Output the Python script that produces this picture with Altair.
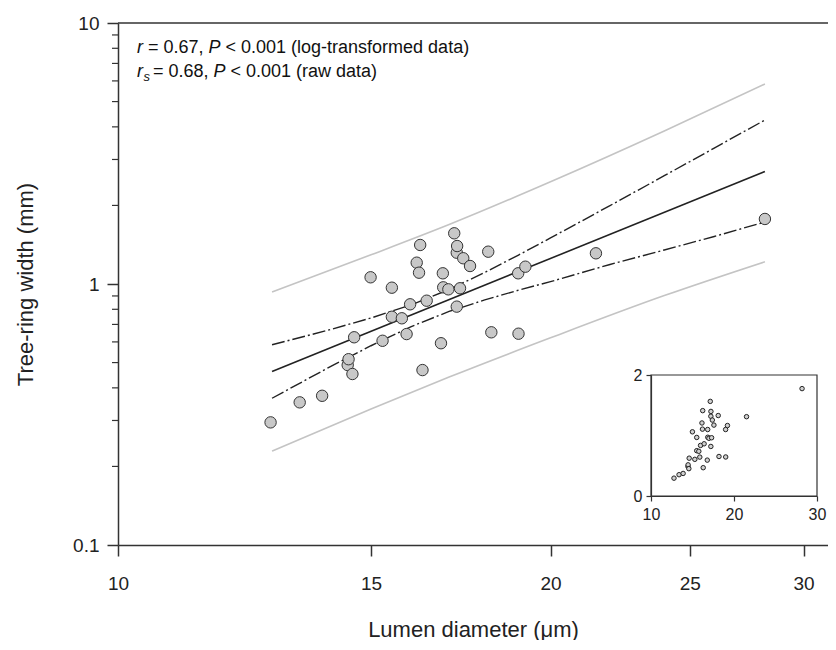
import altair as alt
import pandas as pd

# ---- data ----
lumen = [12.77, 13.38, 13.87, 14.45, 14.47, 14.56, 14.60, 14.99, 15.28, 15.51,
         15.51, 15.76, 15.88, 15.97, 16.14, 16.20, 16.23, 16.29, 16.40, 16.78,
         16.83, 16.84, 16.98, 17.14, 17.21, 17.21, 17.22, 17.30, 17.39, 17.58,
         18.10, 18.19, 18.99, 19.00, 19.21, 21.51, 28.20]
ring = [0.295, 0.352, 0.373, 0.489, 0.515, 0.452, 0.625, 1.061, 0.606, 0.968,
        0.749, 0.739, 0.643, 0.836, 1.207, 1.105, 1.411, 0.468, 0.863, 0.593,
        1.099, 0.971, 0.954, 1.564, 0.819, 1.318, 1.398, 0.963, 1.255, 1.172,
        1.330, 0.653, 1.099, 0.645, 1.165, 1.311, 1.775]

fit_x = [12.8, 28.2]
fit_y = [0.462, 2.70]

ci_x = [12.8, 14, 15, 16, 17, 18, 19, 20, 22, 24, 26, 28.2]
ci_upper = [0.585, 0.665, 0.741, 0.832, 0.953, 1.107, 1.291, 1.501, 1.997, 2.599, 3.317, 4.25]
ci_lower = [0.365, 0.477, 0.580, 0.687, 0.785, 0.869, 0.947, 1.021, 1.188, 1.350, 1.521, 1.728]

pi_x = [12.8, 15, 17, 20, 24, 28.2]
pi_upper = [0.932, 1.294, 1.690, 2.464, 3.857, 5.84]
pi_lower = [0.229, 0.332, 0.440, 0.622, 0.903, 1.217]

x_ticks = [10, 15, 20, 25, 30]
y_ticks = [0.1, 1, 10]
y_minor = [0.2, 0.3, 0.4, 0.5, 0.6, 0.7, 0.8, 0.9, 2, 3, 4, 5, 6, 7, 8, 9]
inset_x_ticks = [10, 20, 30]
inset_y_ticks = [0, 1, 2]

FONT = "Liberation Sans"
DARK = "#333333"

# ---- main scales/axes ----
xscale = alt.Scale(type="log", domain=[10, 31.2], nice=False)
yscale = alt.Scale(type="log", domain=[0.1, 10], nice=False)
xaxis = alt.Axis(values=x_ticks, format="~g", tickSize=11, labelFontSize=19,
                 labelPadding=18, title="Lumen diameter (μm)", titleFontSize=22,
                 titlePadding=26, domainWidth=1.5, tickWidth=1.5,
                 labelFlush=False, labelOverlap=False)
yaxis = alt.Axis(values=y_ticks, format="~g", tickSize=11, labelFontSize=19,
                 labelPadding=8, title="Tree-ring width (mm)", titleFontSize=22,
                 titlePadding=35, domainWidth=1.5, tickWidth=1.5,
                 labelFlush=False, labelOverlap=False)


def X(field):
    return alt.X(field, type="quantitative", scale=xscale, axis=xaxis)


def Y(field):
    return alt.Y(field, type="quantitative", scale=yscale, axis=yaxis)


pts_df = pd.DataFrame({"lumen": lumen, "ring": ring})
fit_df = pd.DataFrame({"x": fit_x, "y": fit_y})
ci_df = pd.DataFrame({"x": ci_x, "up": ci_upper, "lo": ci_lower})
pi_df = pd.DataFrame({"x": pi_x, "up": pi_upper, "lo": pi_lower})

pi_up = alt.Chart(pi_df).mark_line(color="#c4c4c4", strokeWidth=1.6,
                                   interpolate="monotone").encode(x=X("x"), y=Y("up"))
pi_lo = alt.Chart(pi_df).mark_line(color="#c4c4c4", strokeWidth=1.6,
                                   interpolate="monotone").encode(x=X("x"), y=Y("lo"))
ci_up = alt.Chart(ci_df).mark_line(color="#222222", strokeWidth=1.4,
                                   strokeDash=[13, 3, 2, 3]).encode(x=X("x"), y=Y("up"))
ci_lo = alt.Chart(ci_df).mark_line(color="#222222", strokeWidth=1.4,
                                   strokeDash=[13, 3, 2, 3]).encode(x=X("x"), y=Y("lo"))
fit = alt.Chart(fit_df).mark_line(color="#222222", strokeWidth=1.6).encode(x=X("x"), y=Y("y"))
pts = alt.Chart(pts_df).mark_circle(fill="#c8c8c8", stroke="#333333", strokeWidth=1,
                                    size=130, opacity=1).encode(x=X("lumen"), y=Y("ring"))

minor_df = pd.DataFrame({"v": y_minor})
minor = alt.Chart(minor_df).mark_rule(color=DARK, strokeWidth=1.2).encode(
    y=Y("v"), x=alt.value(-6), x2=alt.value(0))

top_df = pd.DataFrame({"v": [10]})
topline = alt.Chart(top_df).mark_rule(color=DARK, strokeWidth=1.5).encode(y=Y("v"))

one = pd.DataFrame({"a": [0]})


def txt(s, x, y, italic=False, size=18):
    return alt.Chart(one).mark_text(
        text=s, align="left", baseline="middle", font=FONT, fontSize=size,
        fontStyle="italic" if italic else "normal", color="#111111"
    ).encode(x=alt.value(x), y=alt.value(y))


texts = [
    txt("r", 19, 25, italic=True),
    txt("= 0.67,", 30, 25),
    txt("P", 90.5, 25, italic=True),
    txt("< 0.001 (log-transformed data)", 107.5, 25),
    txt("r", 19, 49, italic=True),
    txt("s", 25.5, 54, italic=True, size=13),
    txt("= 0.68,", 35, 49),
    txt("P", 95.5, 49, italic=True),
    txt("< 0.001 (raw data)", 112.5, 49),
]

main = alt.layer(pi_up, pi_lo, ci_up, ci_lo, fit, pts, minor, topline, *texts)

# ---- inset (raw data, linear axes) ----
ixscale = alt.Scale(domain=[10, 30], range=[533, 699], nice=False, zero=False)
iyscale = alt.Scale(domain=[0, 2], range=[473, 352], nice=False, zero=False)
ixaxis = alt.Axis(values=inset_x_ticks, format="d", orient="bottom", offset=-49, tickSize=5,
                  labelFontSize=16, labelPadding=5, title="", domainWidth=1.2,
                  tickWidth=1.2, labelFlush=False, labelOverlap=False)
iyaxis = alt.Axis(values=inset_y_ticks, format="d", orient="left", offset=-533, tickSize=5,
                  labelFontSize=16, labelPadding=4, title="", domainWidth=1.2,
                  tickWidth=1.2, labelFlush=False, labelOverlap=False)

frame_df = pd.DataFrame({"x0": [10], "x1": [30], "y0": [0], "y1": [2]})
inset_frame = alt.Chart(frame_df).mark_rect(fillOpacity=0, stroke=DARK, strokeWidth=1.2).encode(
    x=alt.X("x0:Q", scale=ixscale, axis=ixaxis), x2="x1",
    y=alt.Y("y0:Q", scale=iyscale, axis=iyaxis), y2="y1")
inset_pts = alt.Chart(pts_df).mark_circle(fill="#d0d0d0", stroke="#222222", strokeWidth=1,
                                          size=20, opacity=1).encode(
    x=alt.X("lumen:Q", scale=ixscale, axis=ixaxis),
    y=alt.Y("ring:Q", scale=iyscale, axis=iyaxis))
inset = alt.layer(inset_frame, inset_pts)

chart = alt.layer(main, inset).resolve_scale(
    x="independent", y="independent"
).resolve_axis(
    x="independent", y="independent"
).properties(
    width=710, height=522, autosize="none",
    padding={"left": 110, "top": 15, "right": 0, "bottom": 95}
).configure_view(strokeWidth=0).configure_axis(
    labelFont=FONT, titleFont=FONT, domainColor=DARK, tickColor=DARK,
    labelColor="#222222", titleColor="#222222", grid=False, titleFontWeight="normal"
)

chart.save("out.html", embed_options={"renderer": "svg", "actions": False})
